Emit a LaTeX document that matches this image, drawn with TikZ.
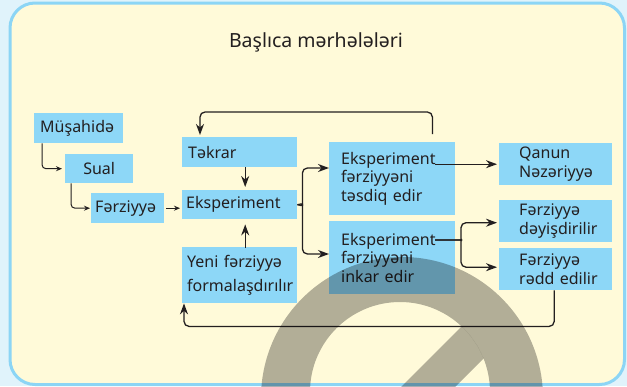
\documentclass[tikz,border=0pt]{standalone}
\usepackage{fontspec}
\setmainfont{Noto Sans}
\definecolor{boxblue}{HTML}{8DD7F7}
\definecolor{creambg}{HTML}{FFFAD9}
\definecolor{paleblue}{HTML}{E0F3FB}
\definecolor{frameblue}{HTML}{8CD5F5}
\definecolor{ink}{HTML}{231F20}
\usetikzlibrary{arrows.meta,calc}

\begin{document}
\begin{tikzpicture}[
  x=1pt, y=-1pt,
  every node/.style={font=\fontsize{16}{18.5}\selectfont, text=ink},
  stage/.style={rectangle, fill=boxblue, anchor=north west, align=left,
                inner xsep=0pt, inner ysep=0pt},
  pad/.style={execute at begin node={\leftskip=#1pt}},
  arr/.style={-{Stealth[length=11pt, width=8pt]}, line width=1.3pt,
              draw=ink, rounded corners=5pt},
  arrsmall/.style={-{Stealth[length=6pt, width=5pt]}, line width=1pt,
                   draw=ink, rounded corners=4pt}
]
  \useasboundingbox (0,0) rectangle (627,386);
  \fill[paleblue] (0,0) rectangle (627,386);
  \draw[fill=creambg, draw=frameblue, line width=3pt, rounded corners=25pt]
    (10,3) rectangle (624.5,384.5);

  \node[font=\fontsize{19.5}{23}\selectfont, anchor=base] (title)
    at (316,47) {Başlıca mərhələləri};

  % left column
  \node[stage, pad=6, text width=89pt, minimum height=30pt] (mus)
    at (34,113) {Müşahidə};
  \node[stage, align=center, text width=68pt, minimum height=29pt] (sual)
    at (65,154) {Sual};
  \node[stage, pad=4, text width=73pt, minimum height=30pt] (ferz)
    at (91,193) {Fərziyyə};

  % middle column
  \node[stage, pad=6, text width=115pt, minimum height=30pt] (takrar)
    at (182,137) {Təkrar};
  \node[stage, pad=4, text width=115pt, minimum height=29pt] (eks)
    at (182,190) {Eksperiment};
  \node[stage, pad=5, text width=115pt, minimum height=56pt,
        font=\fontsize{16}{24}\selectfont] (yeni)
    at (182,247) {Yeni fərziyyə\\ formalaşdırılır};

  \node[stage, pad=12, text width=126pt, minimum height=73pt] (tasdiq)
    at (329,142) {Eksperiment\\ fərziyyəni\\ təsdiq edir};
  \node[stage, pad=12, text width=126pt, minimum height=73pt] (inkar)
    at (329,221) {Eksperiment\\ fərziyyəni\\ inkar edir};

  % right column
  \node[stage, pad=20, text width=113pt, minimum height=42pt] (qanun)
    at (499,143) {Qanun\\ Nəzəriyyə};
  \node[stage, pad=20, text width=113pt, minimum height=42pt] (deyis)
    at (499,200) {Fərziyyə\\ dəyişdirilir};
  \node[stage, pad=20, text width=113pt, minimum height=42pt] (redd)
    at (499,248) {Fərziyyə\\ rədd edilir};

  \coordinate (tin) at ($(tasdiq.north west)+(0,26)$);
  \coordinate (iin) at ($(inkar.north west)+(0,33)$);
  \coordinate (ikend) at ($(inkar.north west)+(106,19)$);
  \coordinate (din) at ($(deyis.west)+(-2,1.5)$);
  \coordinate (rin) at ($(redd.west)+(-2,-2)$);

  \draw[arrsmall] ($(mus.south west)+(8,0)$) |- ([xshift=-3pt]sual.west);
  \draw[arrsmall] ($(sual.south west)+(6,0)$) |- ([xshift=-1pt]ferz.west);
  \draw[arrsmall] ([xshift=2pt]ferz.east) -- ([xshift=-2pt]ferz.east -| eks.west);

  \draw[arr] ([xshift=5.5pt]takrar.south) -- ([xshift=5.5pt, yshift=3pt]eks.north);
  \draw[arr] ([xshift=5.5pt, yshift=-1pt]yeni.north) -- ([xshift=5.5pt, yshift=-5pt]eks.south);

  \draw[arr] (eks.east) .. controls +(3,0) and +(0,3) .. ++(5,-5) |- (tin);
  \draw[arr] (eks.east) .. controls +(3,0) and +(0,-3) .. ++(5,5) |- (iin);

  \draw[arr] (qanun.west -| ikend) -- ([xshift=-2pt]qanun.west);
  \draw[arr] (ikend) -- ++(21,0) .. controls +(3,0) and +(0,3) .. ++(5,-5) |- (din);
  \draw[arr] (ikend) -- ++(21,0) .. controls +(3,0) and +(0,-3) .. ++(5,5) |- (rin);

  \draw[arr] ($(tasdiq.north east)+(-23,-8)$) |- ($(takrar.north west)+(18,-25)$)
    -- ($(takrar.north west)+(18,-2)$);
  \draw[arr] ([xshift=-1.5pt]redd.south) |- ($(yeni.south west)+(2,23)$)
    -- ($(yeni.south west)+(2,0)$);

  % watermark
  \begin{scope}
    \fill[black, fill opacity=0.3, even odd rule]
      (402,398) circle[radius=141pt] (400,392) circle[radius=90pt];
    \clip (400,392) circle[radius=90pt];
    \fill[black, fill opacity=0.3]
      (388,400) -- (480,308) -- (534,308) -- (442,400) -- cycle;
  \end{scope}
\end{tikzpicture}
\end{document}
